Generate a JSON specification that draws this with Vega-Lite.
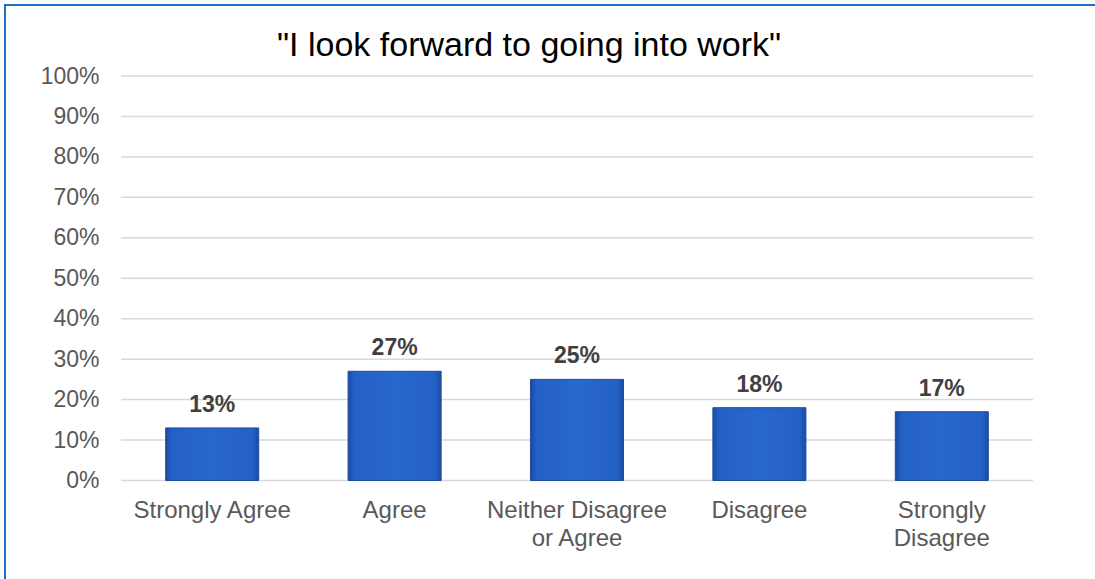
{
  "$schema": "https://vega.github.io/schema/vega-lite/v6.json",
  "autosize": "none",
  "width": 1200,
  "height": 700,
  "padding": {"left": 5, "top": 5, "right": 0, "bottom": 0},
  "background": "white",
  "config": {
    "view": {"stroke": "#1f6fc8", "strokeWidth": 2},
    "font": "Liberation Sans"
  },
  "title": {
    "text": "\"I look forward to going into work\"",
    "anchor": "start",
    "frame": "group",
    "dx": 272,
    "offset": -58,
    "fontSize": 34,
    "fontWeight": "normal",
    "color": "#000000",
    "font": "Liberation Sans"
  },
  "datasets": {
    "ticks": [{"v": 0}, {"v": 0.1}, {"v": 0.2}, {"v": 0.3}, {"v": 0.4}, {"v": 0.5}, {"v": 0.6}, {"v": 0.7}, {"v": 0.8}, {"v": 0.9}, {"v": 1.0}],
    "answers": [
      {"cat": "Strongly Agree", "pct": 0.13},
      {"cat": "Agree", "pct": 0.27},
      {"cat": "Neither Disagree or Agree", "pct": 0.25},
      {"cat": "Disagree", "pct": 0.18},
      {"cat": "Strongly Disagree", "pct": 0.17}
    ]
  },
  "resolve": {"scale": {"x": "independent"}, "axis": {"x": "independent"}},
  "layer": [
    {
      "data": {"name": "ticks"},
      "mark": {"type": "rule", "color": "#d9d9d9", "strokeWidth": 1.5},
      "encoding": {
        "x": {"datum": 0, "type": "quantitative", "scale": {"domain": [0, 1], "range": [116, 1028]}, "axis": null},
        "x2": {"datum": 1},
        "y": {
          "field": "v", "type": "quantitative",
          "scale": {"domain": [0, 1], "range": [475.5, 71], "nice": false},
          "axis": {
            "title": null, "format": ".0%", "values": [0, 0.1, 0.2, 0.3, 0.4, 0.5, 0.6, 0.7, 0.8, 0.9, 1.0],
            "grid": false, "domain": false, "ticks": false, "tickSize": 0,
            "offset": -100, "labelPadding": 6,
            "labelFontSize": 23, "labelColor": "#595959", "labelFont": "Liberation Sans"
          }
        }
      }
    },
    {
      "data": {"name": "answers"},
      "layer": [
        {
          "mark": {
            "type": "bar",
            "stroke": "#1b4c9e",
            "strokeWidth": 1,
            "fill": {
              "gradient": "linear", "x1": 0, "y1": 0, "x2": 1, "y2": 0,
              "stops": [
                {"offset": 0, "color": "#1a4ca4"},
                {"offset": 0.07, "color": "#2461c6"},
                {"offset": 0.5, "color": "#2867cd"},
                {"offset": 0.93, "color": "#2461c6"},
                {"offset": 1, "color": "#1a4ca4"}
              ]
            }
          },
          "encoding": {
            "x": {
              "field": "cat", "type": "nominal", "sort": null,
              "scale": {"range": [116, 1028], "paddingInner": 0.49, "paddingOuter": 0.245},
              "axis": {
                "title": null, "domain": false, "ticks": false, "tickSize": 0, "labelAngle": 0,
                "offset": -224.5, "labelPadding": 18, "labelLimit": 0,
                "labelFontSize": 24, "labelColor": "#595959", "labelFont": "Liberation Sans",
                "labelLineHeight": 28,
                "labelExpr": "datum.value == 'Neither Disagree or Agree' ? ['Neither Disagree', 'or Agree'] : datum.value == 'Strongly Disagree' ? ['Strongly', 'Disagree'] : datum.value"
              }
            },
            "y": {"field": "pct", "type": "quantitative"}
          }
        },
        {
          "mark": {"type": "text", "baseline": "alphabetic", "dy": -16, "fontSize": 23, "fontWeight": "bold", "color": "#404040", "font": "Liberation Sans"},
          "encoding": {
            "x": {"field": "cat", "type": "nominal", "sort": null},
            "y": {"field": "pct", "type": "quantitative"},
            "text": {"field": "pct", "type": "quantitative", "format": ".0%"}
          }
        }
      ]
    }
  ]
}
